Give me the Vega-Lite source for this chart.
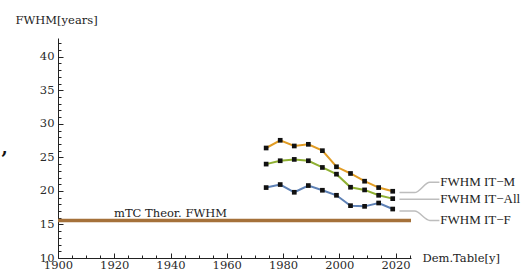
{
  "$schema": "https://vega.github.io/schema/vega-lite/v6.json",
  "autosize": "none",
  "width": 353,
  "height": 220,
  "padding": {"left": 58, "top": 38, "right": 113, "bottom": 20},
  "background": "white",
  "config": {"view": {"stroke": null}, "font": "DejaVu Serif"},
  "datasets": {
    "series": [
      {"series": "IT-M", "year": 1974, "fwhm": 26.4},
      {"series": "IT-M", "year": 1979, "fwhm": 27.55},
      {"series": "IT-M", "year": 1984, "fwhm": 26.7},
      {"series": "IT-M", "year": 1989, "fwhm": 26.95},
      {"series": "IT-M", "year": 1994, "fwhm": 26.0},
      {"series": "IT-M", "year": 1999, "fwhm": 23.6},
      {"series": "IT-M", "year": 2004, "fwhm": 22.6},
      {"series": "IT-M", "year": 2009, "fwhm": 21.45},
      {"series": "IT-M", "year": 2014, "fwhm": 20.5},
      {"series": "IT-M", "year": 2019, "fwhm": 19.95},
      {"series": "IT-All", "year": 1974, "fwhm": 24.0},
      {"series": "IT-All", "year": 1979, "fwhm": 24.5},
      {"series": "IT-All", "year": 1984, "fwhm": 24.7},
      {"series": "IT-All", "year": 1989, "fwhm": 24.5},
      {"series": "IT-All", "year": 1994, "fwhm": 23.5},
      {"series": "IT-All", "year": 1999, "fwhm": 22.5},
      {"series": "IT-All", "year": 2004, "fwhm": 20.55},
      {"series": "IT-All", "year": 2009, "fwhm": 20.15},
      {"series": "IT-All", "year": 2014, "fwhm": 19.35},
      {"series": "IT-All", "year": 2019, "fwhm": 18.85},
      {"series": "IT-F", "year": 1974, "fwhm": 20.5},
      {"series": "IT-F", "year": 1979, "fwhm": 20.95},
      {"series": "IT-F", "year": 1984, "fwhm": 19.8},
      {"series": "IT-F", "year": 1989, "fwhm": 20.8},
      {"series": "IT-F", "year": 1994, "fwhm": 20.1},
      {"series": "IT-F", "year": 1999, "fwhm": 19.35},
      {"series": "IT-F", "year": 2004, "fwhm": 17.8},
      {"series": "IT-F", "year": 2009, "fwhm": 17.7},
      {"series": "IT-F", "year": 2014, "fwhm": 18.2},
      {"series": "IT-F", "year": 2019, "fwhm": 17.3}
    ],
    "leaders": [
      {"series": "IT-M", "i": 1, "year": 2021.4, "fwhm": 19.75},
      {"series": "IT-M", "i": 2, "year": 2026.8, "fwhm": 19.75},
      {"series": "IT-M", "i": 3, "year": 2032.2, "fwhm": 21.3},
      {"series": "IT-M", "i": 4, "year": 2035.6, "fwhm": 21.3},
      {"series": "IT-All", "i": 1, "year": 2021.4, "fwhm": 18.75},
      {"series": "IT-All", "i": 2, "year": 2035.6, "fwhm": 18.75},
      {"series": "IT-F", "i": 1, "year": 2021.4, "fwhm": 17.0},
      {"series": "IT-F", "i": 2, "year": 2026.8, "fwhm": 17.0},
      {"series": "IT-F", "i": 3, "year": 2032.2, "fwhm": 15.6},
      {"series": "IT-F", "i": 4, "year": 2035.6, "fwhm": 15.6}
    ],
    "labels": [
      {"label": "FWHM IT−M", "year": 2035.9, "fwhm": 21.3},
      {"label": "FWHM IT−All", "year": 2035.9, "fwhm": 18.75},
      {"label": "FWHM IT−F", "year": 2035.9, "fwhm": 15.6}
    ],
    "theory": [
      {"label": "mTC Theor. FWHM", "year": 1940, "fwhm": 15.6}
    ],
    "stray": [
      {"label": ",", "year": 1881, "fwhm": 26.2}
    ]
  },
  "layer": [
    {
      "data": {"name": "theory"},
      "mark": {"type": "rule", "color": "#a5713a", "strokeWidth": 3.5},
      "encoding": {
        "y": {"field": "fwhm", "type": "quantitative"}
      }
    },
    {
      "data": {"name": "theory"},
      "mark": {"type": "text", "font": "DejaVu Serif", "fontSize": 11.5, "color": "#222", "baseline": "bottom", "dy": -1},
      "encoding": {
        "x": {"field": "year", "type": "quantitative"},
        "y": {"field": "fwhm", "type": "quantitative"},
        "text": {"field": "label"}
      }
    },
    {
      "data": {"name": "series"},
      "mark": {"type": "line", "strokeWidth": 2},
      "encoding": {
        "x": {
          "field": "year", "type": "quantitative",
          "scale": {"domain": [1900, 2025.5], "nice": false, "zero": false},
          "axis": {
            "values": [1900,1905,1910,1915,1920,1925,1930,1935,1940,1945,1950,1955,1960,1965,1970,1975,1980,1985,1990,1995,2000,2005,2010,2015,2020,2025],
            "tickCount": 200,
            "labelExpr": "datum.value % 20 === 0 ? datum.label : ''",
            "format": "d",
            "tickSize": {"condition": {"test": "datum.value % 20 === 0", "value": -5}, "value": -3},
            "tickColor": "#222", "tickWidth": 1,
            "domainColor": "#222", "domainWidth": 1,
            "labelFont": "DejaVu Serif", "labelFontSize": 11.5, "labelColor": "#2a2a2a",
            "labelPadding": 6.5, "labelFlush": false, "labelOverlap": false,
            "grid": false,
            "title": "Dem.Table[y]",
            "titleFont": "DejaVu Serif", "titleFontSize": 11.5, "titleFontWeight": "normal", "titleColor": "#222",
            "titleAlign": "left", "titleBaseline": "middle",
            "titleX": 364, "titleY": 0
          }
        },
        "y": {
          "field": "fwhm", "type": "quantitative",
          "scale": {"domain": [10, 42.8], "nice": false, "zero": false},
          "axis": {
            "values": [10,11,12,13,14,15,16,17,18,19,20,21,22,23,24,25,26,27,28,29,30,31,32,33,34,35,36,37,38,39,40,41,42],
            "tickCount": 200,
            "labelExpr": "datum.value % 5 === 0 ? datum.label : ''",
            "format": "d",
            "labelOverlap": false, "labelFlush": false, "labelBound": false,
            "tickSize": {"condition": {"test": "datum.value % 5 === 0", "value": -5}, "value": -3},
            "tickColor": "#222", "tickWidth": 1,
            "domainColor": "#222", "domainWidth": 1,
            "labelFont": "DejaVu Serif", "labelFontSize": 11.5, "labelColor": "#2a2a2a",
            "labelPadding": 9,
            "grid": false,
            "title": "FWHM[years]",
            "titleFont": "DejaVu Serif", "titleFontSize": 11.5, "titleFontWeight": "normal", "titleColor": "#222",
            "titleAngle": 0, "titleAlign": "left", "titleBaseline": "middle",
            "titleX": -43, "titleY": -18
          }
        },
        "color": {
          "field": "series", "type": "nominal",
          "scale": {"domain": ["IT-M", "IT-All", "IT-F"], "range": ["#e19c24", "#8fb032", "#5e81b5"]},
          "legend": null
        }
      }
    },
    {
      "data": {"name": "series"},
      "mark": {"type": "square", "color": "#111", "opacity": 1, "filled": true, "size": 22},
      "encoding": {
        "x": {"field": "year", "type": "quantitative"},
        "y": {"field": "fwhm", "type": "quantitative"}
      }
    },
    {
      "data": {"name": "leaders"},
      "mark": {"type": "line", "color": "#bdbdbd", "strokeWidth": 1.5, "interpolate": "monotone", "clip": false},
      "encoding": {
        "x": {"field": "year", "type": "quantitative"},
        "y": {"field": "fwhm", "type": "quantitative"},
        "detail": {"field": "series"},
        "order": {"field": "i"}
      }
    },
    {
      "data": {"name": "labels"},
      "mark": {"type": "text", "font": "Liberation Serif", "fontSize": 13, "color": "#222", "align": "left", "baseline": "middle", "clip": false},
      "encoding": {
        "x": {"field": "year", "type": "quantitative"},
        "y": {"field": "fwhm", "type": "quantitative"},
        "text": {"field": "label"}
      }
    },
    {
      "data": {"name": "stray"},
      "mark": {"type": "text", "font": "DejaVu Serif", "fontSize": 18, "fontWeight": "bold", "color": "#111", "align": "center", "baseline": "middle", "clip": false},
      "encoding": {
        "x": {"field": "year", "type": "quantitative"},
        "y": {"field": "fwhm", "type": "quantitative"},
        "text": {"field": "label"}
      }
    }
  ]
}
